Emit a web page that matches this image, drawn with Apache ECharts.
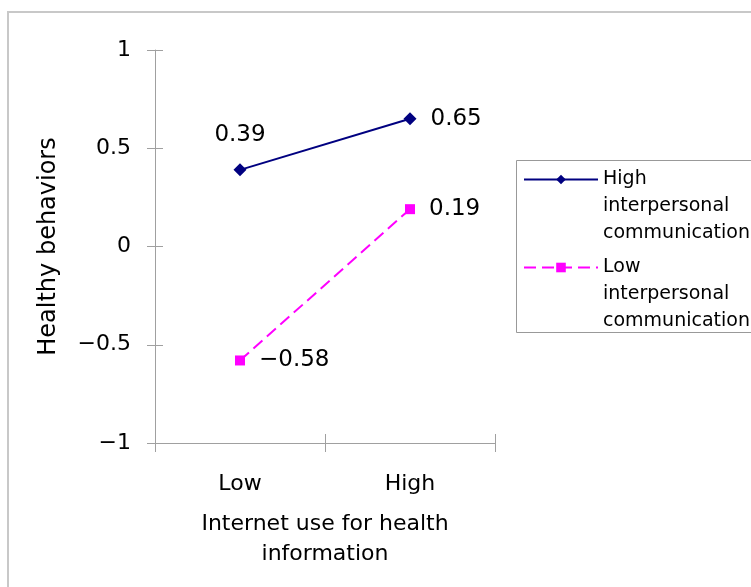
<!DOCTYPE html>
<html>
<head>
<meta charset="utf-8">
<script src="https://cdn.jsdelivr.net/npm/echarts@6/dist/echarts.min.js"></script>
<style>
html,body{margin:0;padding:0;background:#fff;}
#chart{width:751px;height:587px;}
</style>
</head>
<body>
<div id="chart"></div>
<script>
const categories = ['Low', 'High'];
const seriesNames = ['High\ninterpersonal\ncommunication', 'Low\ninterpersonal\ncommunication'];
const highComm = [0.39, 0.65];
const lowComm = [-0.58, 0.19];
const yTicks = [-1, -0.5, 0, 0.5, 1];
const xTitle = 'Internet use for health\ninformation';
const yTitle = 'Healthy behaviors';

const FONT = '"DejaVu Sans", sans-serif';
const fmtNum = v => String(v).replace('-', '\u2212');

const labelPos = [['top', 'right'], ['right', 'right']];

function buildData(vals, posArr) {
  return vals.map((v, i) => ({
    value: v,
    label: { position: posArr[i], distance: posArr[i] === 'top' ? 17 : 14 }
  }));
}

const chart = echarts.init(document.getElementById('chart'), null, {renderer: 'canvas'});
const axisLineStyle = { color: '#a0a0a0', width: 1 };
const hiddenLine = { color: 'rgba(0,0,0,0)', width: 0 };
const option = {
  animation: false,
  backgroundColor: '#ffffff',
  textStyle: { fontFamily: FONT },
  graphic: [{
    type: 'rect', shape: { x: 8, y: 12, width: 800, height: 620 },
    style: { fill: 'none', stroke: '#c8c8c8', lineWidth: 2 }, z: -1
  }, {
    type: 'rect', shape: { x: 516.5, y: 160.5, width: 300, height: 172 },
    style: { fill: 'none', stroke: '#999999', lineWidth: 1 }, z: -1
  }],
  grid: { left: 155, right: 256, top: 50, bottom: 144 },
  legend: {
    orient: 'vertical', left: 516, top: 112,
    padding: [0, 0, 0, 7],
    itemWidth: 74, itemHeight: 12, itemGap: -47,
    formatter: name => '\n\n' + name,
    textStyle: { fontFamily: FONT, fontSize: 19, color: '#000', lineHeight: 27 },
    data: seriesNames
  },
  xAxis: [{
    type: 'category', data: categories, boundaryGap: true,
    axisLine: { onZero: false, lineStyle: axisLineStyle },
    axisTick: { show: true, length: 9, lineStyle: axisLineStyle },
    axisLabel: { fontSize: 22, color: '#000', margin: 30, fontFamily: FONT },
    name: xTitle, nameLocation: 'middle', nameGap: 66,
    nameTextStyle: { fontSize: 22, color: '#000', lineHeight: 30, fontFamily: FONT }
  }, {
    type: 'category', data: categories, boundaryGap: true, position: 'top', offset: -393,
    axisLine: { show: true, onZero: false, lineStyle: hiddenLine },
    axisTick: { show: true, length: 9, lineStyle: axisLineStyle },
    axisLabel: { show: false }
  }],
  yAxis: [{
    type: 'value', min: -1, max: 1, interval: 0.5,
    axisLine: { show: true, onZero: false, lineStyle: axisLineStyle },
    axisTick: { show: true, length: 8, lineStyle: axisLineStyle },
    splitLine: { show: false },
    axisLabel: { fontSize: 22, color: '#000', margin: 24, padding: [6, 0, 0, 0], fontFamily: FONT, formatter: v => fmtNum(v) },
    name: yTitle, nameLocation: 'middle', nameGap: 94, nameRotate: 90,
    nameTextStyle: { fontSize: 24, color: '#000', fontFamily: FONT }
  }, {
    type: 'value', min: -1, max: 1, interval: 0.5, position: 'right', offset: -340,
    axisLine: { show: true, onZero: false, lineStyle: hiddenLine },
    axisTick: { show: true, length: 8, lineStyle: axisLineStyle },
    splitLine: { show: false },
    axisLabel: { show: false }
  }],
  series: [{
    name: seriesNames[0], type: 'line',
    data: buildData(highComm, labelPos[0]),
    symbol: 'diamond', symbolSize: 13,
    itemStyle: { color: '#000080' },
    lineStyle: { color: '#000080', width: 2 },
    label: { show: true, fontSize: 23, color: '#000', fontFamily: FONT, formatter: p => fmtNum(p.value) }
  }, {
    name: seriesNames[1], type: 'line',
    data: buildData(lowComm, labelPos[1]),
    symbol: 'rect', symbolSize: 10,
    itemStyle: { color: '#ff00ff' },
    lineStyle: { color: '#ff00ff', width: 2, type: [12, 6] },
    label: { show: true, fontSize: 23, color: '#000', fontFamily: FONT, formatter: p => fmtNum(p.value) }
  }]
};
chart.setOption(option);
</script>
</body>
</html>
